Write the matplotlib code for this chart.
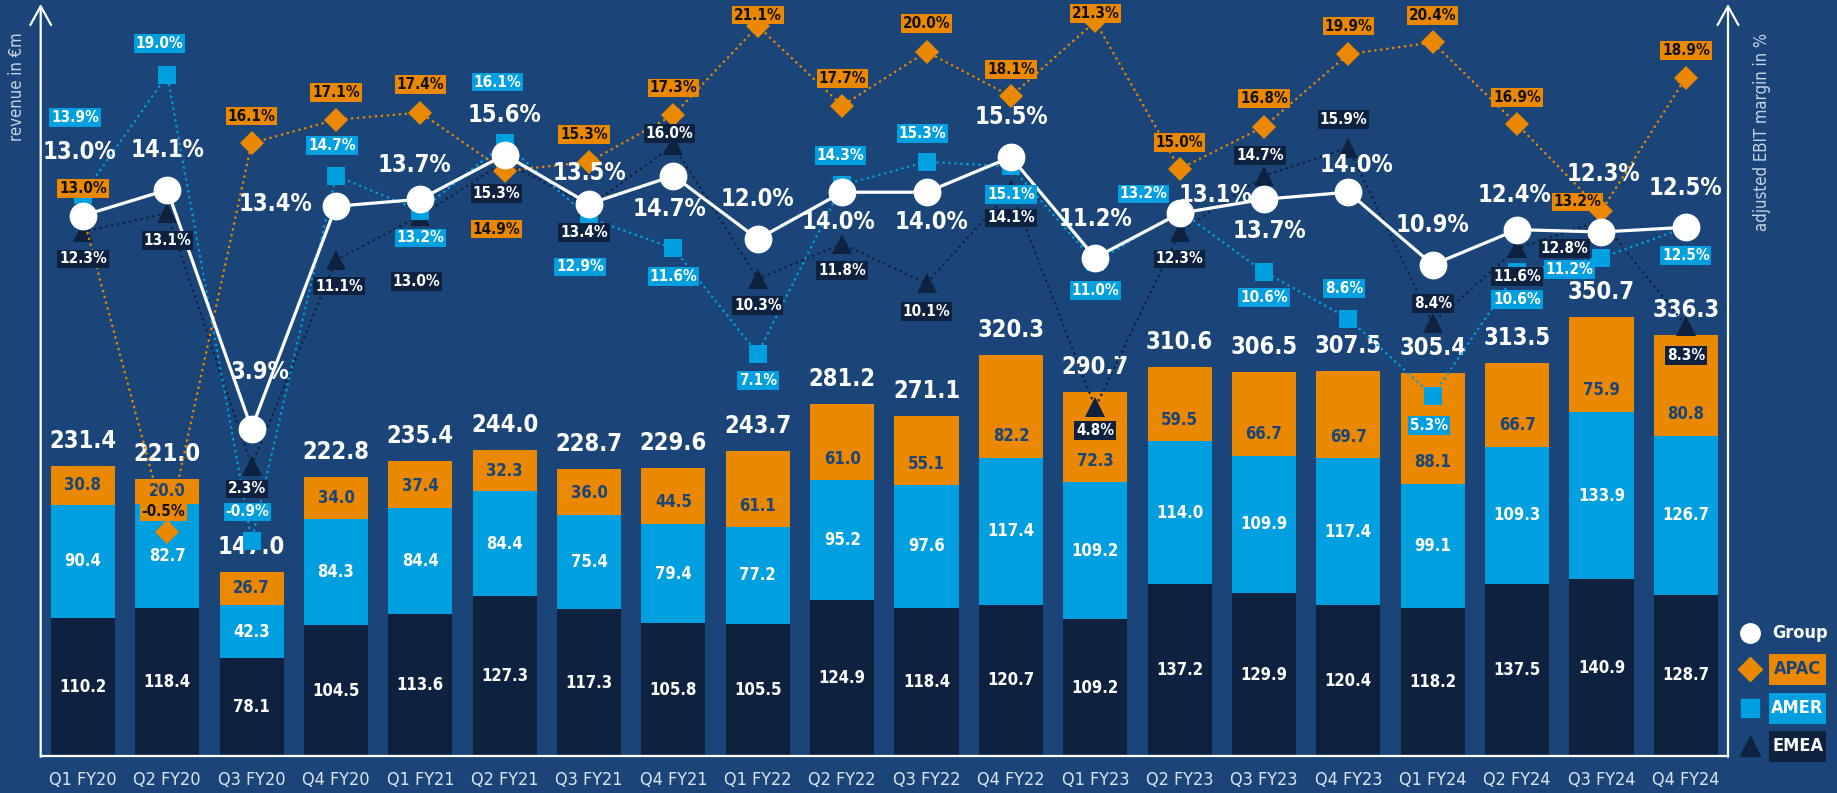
import numpy as np
import matplotlib.pyplot as plt
from matplotlib.patches import Rectangle


quarters = ['Q1 FY20', 'Q2 FY20', 'Q3 FY20', 'Q4 FY20', 'Q1 FY21', 'Q2 FY21', 'Q3 FY21', 'Q4 FY21',
            'Q1 FY22', 'Q2 FY22', 'Q3 FY22', 'Q4 FY22', 'Q1 FY23', 'Q2 FY23', 'Q3 FY23', 'Q4 FY23',
            'Q1 FY24', 'Q2 FY24', 'Q3 FY24', 'Q4 FY24']

# revenue in EUR m
emea_rev = [110.2, 118.4, 78.1, 104.5, 113.6, 127.3, 117.3, 105.8, 105.5, 124.9,
            118.4, 120.7, 109.2, 137.2, 129.9, 120.4, 118.2, 137.5, 140.9, 128.7]
amer_rev = [90.4, 82.7, 42.3, 84.3, 84.4, 84.4, 75.4, 79.4, 77.2, 95.2,
            97.6, 117.4, 109.2, 114.0, 109.9, 117.4, 99.1, 109.3, 133.9, 126.7]
apac_rev = [30.8, 20.0, 26.7, 34.0, 37.4, 32.3, 36.0, 44.5, 61.1, 61.0,
            55.1, 82.2, 72.3, 59.5, 66.7, 69.7, 88.1, 66.7, 75.9, 80.8]
total_rev = [231.4, 221.0, 147.0, 222.8, 235.4, 244.0, 228.7, 229.6, 243.7, 281.2,
             271.1, 320.3, 290.7, 310.6, 306.5, 307.5, 305.4, 313.5, 350.7, 336.3]

# adjusted EBIT margin in %
group_margin = [13.0, 14.1, 3.9, 13.4, 13.7, 15.6, 13.5, 14.7, 12.0, 14.0,
                14.0, 15.5, 11.2, 13.1, 13.7, 14.0, 10.9, 12.4, 12.3, 12.5]
apac_margin = [13.0, -0.5, 16.1, 17.1, 17.4, 14.9, 15.3, 17.3, 21.1, 17.7,
               20.0, 18.1, 21.3, 15.0, 16.8, 19.9, 20.4, 16.9, 13.2, 18.9]
amer_margin = [13.9, 19.0, -0.9, 14.7, 13.2, 16.1, 12.9, 11.6, 7.1, 14.3,
               15.3, 15.1, 11.0, 13.2, 10.6, 8.6, 5.3, 10.6, 11.2, 12.5]
emea_margin = [12.3, 13.1, 2.3, 11.1, 13.0, 15.3, 13.4, 16.0, 10.3, 11.8,
               10.1, 14.1, 4.8, 12.3, 14.7, 15.9, 8.4, 11.6, 12.8, 8.3]

# label offsets from the marker in pixels (dx, dy), dy > 0 means below
group_off = [(-4, -64), (0, -40), (8, -57), (-61, -2), (-6, -34), (0, -40), (0, -31), (-4, 33),
             (0, -40), (-4, 30), (5, 30), (0, -40), (0, -39), (36, -18), (5, 32), (8, -27),
             (0, -40), (-3, -35), (2, -58), (0, -39)]
apac_off = [(0, -27), (-4, -20), (0, -27), (0, -27), (0, -28), (-8, 58), (-5, -27), (0, -27),
            (0, -11), (0, -27), (0, -28), (0, -27), (0, -8), (0, -26), (0, -28), (0, -28),
            (0, -27), (0, -27), (-24, -9), (0, -27)]
amer_off = [(-8, -77), (-8, -32), (-4, -29), (-4, -30), (0, 27), (-7, -61), (-9, 49), (0, 28),
            (0, 27), (-2, -30), (-4, -28), (0, 28), (0, 28), (-36, -17), (0, 26), (-4, -30),
            (-4, 30), (0, 28), (-32, 12), (0, 28)]
emea_off = [(0, 27), (0, 27), (-5, 23), (3, 26), (-4, 66), (-8, 32), (-5, 26), (-4, -12),
            (0, 27), (0, 27), (0, 28), (0, 28), (0, 23), (0, 27), (-4, -20), (-5, -28),
            (0, -20), (0, 28), (-37, 28), (0, 30)]

BG = '#1b4578'
NAVY = '#0e2240'
CYAN = '#009fdf'
ORANGE = '#ea8800'
LIGHT = '#dde5ee'

plt.rcParams['font.family'] = 'DejaVu Sans'
plt.rcParams['font.stretch'] = 'condensed'

W, H = 1837, 793
fig = plt.figure(figsize=(W / 100, H / 100), dpi=100, facecolor=BG)

left, right, bottom, top = 40.7, 1728, 756, 6
px_rev = 1.253
ax = fig.add_axes([left / W, 1 - bottom / H, (right - left) / W, (bottom - top) / H])
ax.set_facecolor('none')
ax.set_xlim(-0.5, 19.5)
ax.set_ylim(0, (bottom - top) / px_rev)

ax2 = ax.twinx()
zero_y, px_pct = 519.8, 23.4
ax2.set_ylim(-(bottom - zero_y) / px_pct, (zero_y - top) / px_pct)

for a in (ax, ax2):
    for s in a.spines.values():
        s.set_visible(False)
    a.tick_params(left=False, right=False, labelleft=False, labelright=False)
ax.set_xticks(range(len(quarters)), quarters)
ax.tick_params(axis='x', length=0, pad=11, labelsize=13, labelcolor=LIGHT)

#######################################################################################
# stacked revenue bars

x = np.arange(len(quarters))
bw = 0.76
ax.bar(x, emea_rev, bw, color=NAVY)
ax.bar(x, amer_rev, bw, bottom=emea_rev, color=CYAN)
ax.bar(x, apac_rev, bw, bottom=np.add(emea_rev, amer_rev), color=ORANGE)

apac_lift = 21.5 / px_rev   # APAC values sit near the bottom of tall segments
for i in range(len(quarters)):
    e, a_, p = emea_rev[i], amer_rev[i], apac_rev[i]
    ax.text(i, e / 2, f'{e:.1f}', ha='center', va='center', color='white', fontsize=12, weight='bold')
    ax.text(i, e + a_ / 2, f'{a_:.1f}', ha='center', va='center', color='white', fontsize=12, weight='bold')
    ax.text(i, e + a_ + min(p / 2, apac_lift), f'{p:.1f}', ha='center', va='center', color=BG,
            fontsize=12, weight='bold')
    ax.annotate(f'{total_rev[i]:.1f}', (i, total_rev[i]), xytext=(0, 25), textcoords='offset pixels',
                ha='center', va='center', color='white', fontsize=17, weight='bold')

#######################################################################################
# margin lines

dots = (0, (0.1, 2.3))
ax2.plot(x, emea_margin, color=NAVY, lw=1.8, ls=dots, dash_capstyle='round',
         marker='^', ms=15, mew=0, zorder=2)
ax2.plot(x, amer_margin, color=CYAN, lw=1.8, ls=dots, dash_capstyle='round',
         marker='s', ms=13, mew=0, zorder=2.2)
ax2.plot(x, apac_margin, color=ORANGE, lw=1.8, ls=dots, dash_capstyle='round',
         marker='D', ms=12, mew=0, zorder=2.4)
ax2.plot(x, group_margin, color='white', lw=2.3, marker='o', ms=19, zorder=4)


def pct_label(i, v, off, fc, tc):
    ax2.annotate(f'{v:.1f}%', (i, v), xytext=(off[0], -off[1]), textcoords='offset pixels',
                 ha='center', va='center', fontsize=11, weight='bold', color=tc, zorder=6,
                 bbox=dict(boxstyle='square,pad=0.12', fc=fc, ec='none'))


for i in range(len(quarters)):
    pct_label(i, emea_margin[i], emea_off[i], NAVY, 'white')
    pct_label(i, amer_margin[i], amer_off[i], CYAN, 'white')
    pct_label(i, apac_margin[i], apac_off[i], ORANGE, '#111111')
    ax2.annotate(f'{group_margin[i]:.1f}%', (i, group_margin[i]),
                 xytext=(group_off[i][0], -group_off[i][1]), textcoords='offset pixels',
                 ha='center', va='center', fontsize=17, weight='bold', color='white', zorder=7)

#######################################################################################
# axes arrows, titles and legend in pixel coordinates

ov = fig.add_axes([0, 0, 1, 1])
ov.set_xlim(0, W)
ov.set_ylim(H, 0)
ov.axis('off')

ov.plot([left, right], [bottom, bottom], color='white', lw=1.6)
for xa in (left, right):
    ov.annotate('', xy=(xa, 4), xytext=(xa, bottom + 0.8),
                arrowprops=dict(arrowstyle='->,head_length=0.9,head_width=0.5', color='white',
                                lw=1.6, mutation_scale=15, shrinkA=0, shrinkB=0))

ov.text(17, 87, 'revenue in €m', rotation=90, ha='center', va='center', color='#c9d4e2', fontsize=12)
ov.text(1762, 132, 'adjusted EBIT margin in %', rotation=90, ha='center', va='center',
        color='#c9d4e2', fontsize=12)

ov.plot(1750, 633, 'o', color='white', ms=14)
ov.plot(1750, 669, 'D', color=ORANGE, ms=12)
ov.plot(1750, 708, 's', color=CYAN, ms=13)
ov.plot(1750, 746, '^', color=NAVY, ms=15)
ov.text(1772, 633, 'Group', ha='left', va='center', color='white', fontsize=13, weight='bold')
for yc, name, fc, tc in [(669, 'APAC', ORANGE, BG), (708, 'AMER', CYAN, 'white'), (746, 'EMEA', NAVY, 'white')]:
    ov.add_patch(Rectangle((1769, yc - 15.5), 57, 31, fc=fc, ec='none'))
    ov.text(1797.5, yc, name, ha='center', va='center', color=tc, fontsize=13, weight='bold')

fig.savefig('out.png', dpi=100, facecolor=BG)
